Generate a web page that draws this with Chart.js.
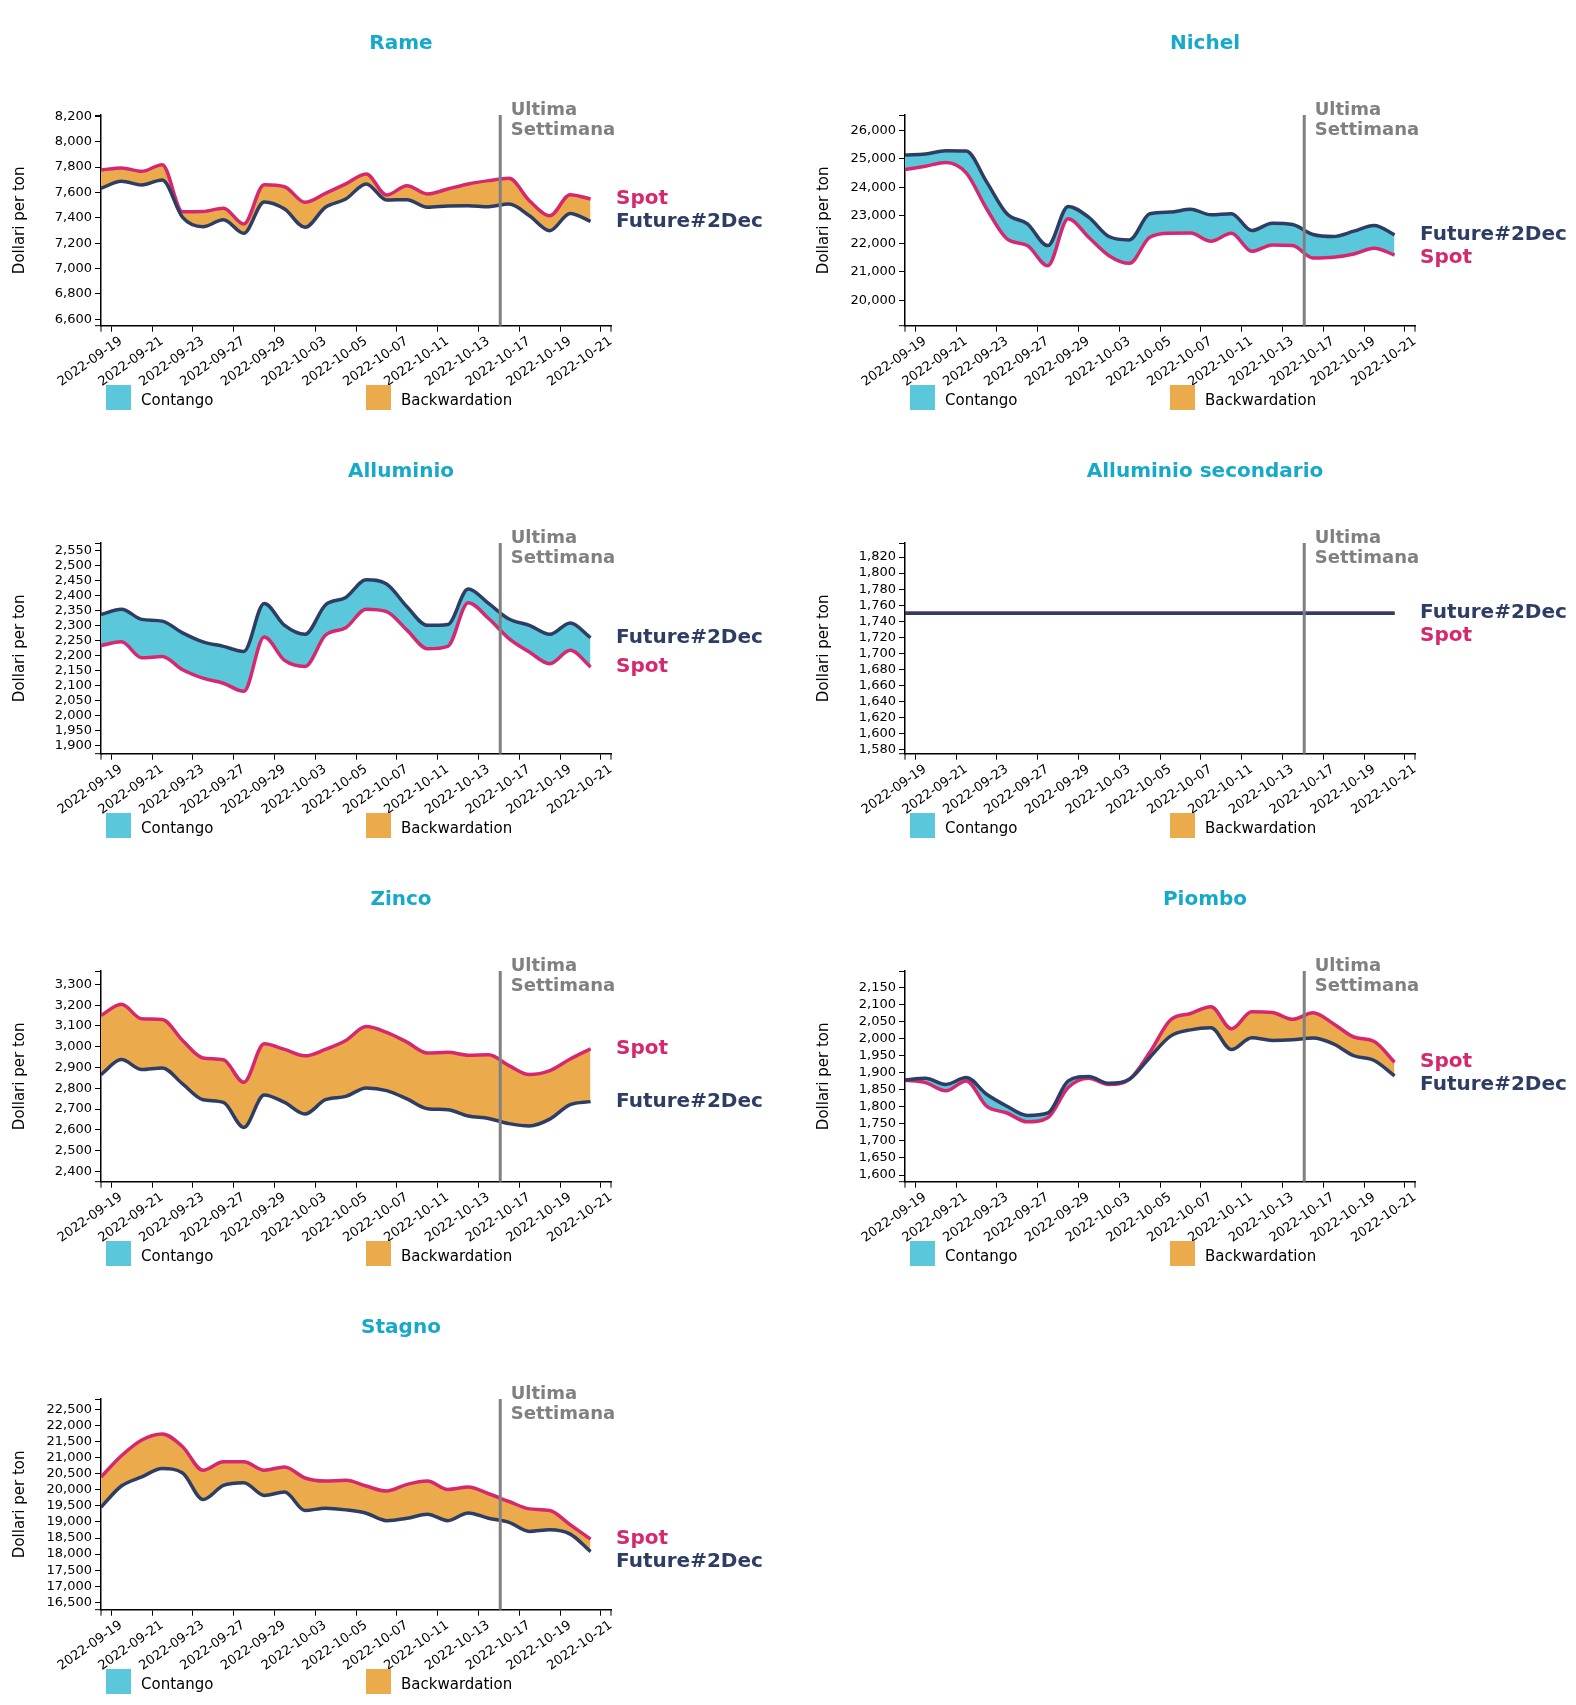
<!DOCTYPE html>
<html>
<head>
<meta charset="utf-8">
<script src="https://cdn.jsdelivr.net/npm/chart.js@4.4.0/dist/chart.umd.min.js"></script>
<style>
html,body{margin:0;padding:0;background:#fff;width:1576px;height:1705px;overflow:hidden;font-family:"DejaVu Sans",sans-serif;}
.panel{position:absolute;width:772px;height:428px;}
.panel canvas{position:absolute;left:0;top:0;width:772px;height:428px;}
.title{position:absolute;left:0;top:30.4px;width:802px;text-align:center;font-weight:bold;font-size:20px;line-height:24px;color:#17a9c9;}
.leg{position:absolute;top:385px;width:25px;height:25px;}
.legt{position:absolute;top:390px;font-size:15px;line-height:20px;color:#000;white-space:nowrap;}
</style>
</head>
<body>
<script>
// ---------------- DATA ----------------
const dates = ['2022-09-19','2022-09-20','2022-09-21','2022-09-22','2022-09-23','2022-09-26','2022-09-27','2022-09-28','2022-09-29','2022-09-30','2022-10-03','2022-10-04','2022-10-05','2022-10-06','2022-10-07','2022-10-10','2022-10-11','2022-10-12','2022-10-13','2022-10-14','2022-10-17','2022-10-18','2022-10-19','2022-10-20','2022-10-21'];
const lastWeekDate = '2022-10-14';

const rameSpot    = [7777,7793,7766,7819,7448,7450,7475,7351,7661,7645,7522,7593,7667,7745,7580,7653,7588,7627,7667,7693,7711,7535,7417,7582,7548];
const rameFuture  = [7632,7688,7659,7698,7404,7330,7385,7278,7525,7469,7325,7483,7548,7667,7540,7543,7483,7493,7496,7488,7509,7417,7299,7435,7372];

const nichelSpot   = [24624,24743,24873,24506,23237,22170,21933,21221,22881,22229,21577,21304,22229,22371,22375,22087,22371,21731,21956,21933,21494,21518,21636,21838,21601];
const nichelFuture = [25134,25170,25289,25277,24186,23059,22703,21933,23320,22940,22253,22134,23059,23118,23220,23023,23059,22466,22727,22680,22324,22253,22443,22644,22312];

const allumSpot   = [2233,2245,2192,2196,2152,2124,2107,2080,2261,2183,2163,2267,2292,2354,2346,2284,2222,2230,2375,2323,2256,2211,2172,2217,2161];
const allumFuture = [2336,2354,2320,2314,2275,2245,2230,2213,2373,2300,2270,2368,2393,2452,2438,2362,2300,2303,2421,2373,2321,2300,2270,2308,2259];

const allumSecSpot   = [1750,1750,1750,1750,1750,1750,1750,1750,1750,1750,1750,1750,1750,1750,1750,1750,1750,1750,1750,1750,1750,1750,1750,1750,1750];
const allumSecFuture = [1750,1750,1750,1750,1750,1750,1750,1750,1750,1750,1750,1750,1750,1750,1750,1750,1750,1750,1750,1750,1750,1750,1750,1750,1750];

const zincoSpot   = [3150,3204,3134,3131,3030,2946,2937,2829,3014,2987,2956,2987,3030,3097,3069,3022,2970,2973,2959,2961,2909,2866,2885,2941,2990];
const zincoFuture = [2866,2938,2890,2898,2821,2745,2732,2612,2768,2732,2676,2745,2761,2802,2789,2749,2702,2697,2667,2655,2630,2619,2652,2721,2736];

const piomboSpot   = [1878,1871,1847,1876,1802,1782,1756,1768,1857,1884,1866,1881,1960,2054,2074,2094,2029,2079,2077,2057,2076,2044,2005,1992,1931];
const piomboFuture = [1879,1884,1866,1886,1837,1802,1775,1782,1876,1889,1869,1881,1945,2007,2026,2032,1968,2003,1995,1997,2002,1985,1950,1936,1891];

const stagnoSpot   = [20399,21057,21549,21737,21340,20608,20869,20869,20608,20712,20367,20273,20294,20117,19960,20169,20273,20012,20085,19876,19636,19406,19354,18914,18465];
const stagnoFuture = [19458,20117,20399,20660,20524,19698,20137,20221,19824,19928,19354,19427,19375,19270,19040,19113,19239,19040,19280,19113,18988,18705,18757,18621,18078];

const titles = ['Rame','Nichel','Alluminio','Alluminio secondario','Zinco','Piombo','Stagno'];
const spotSeries = [rameSpot, nichelSpot, allumSpot, allumSecSpot, zincoSpot, piomboSpot, stagnoSpot];
const futureSeries = [rameFuture, nichelFuture, allumFuture, allumSecFuture, zincoFuture, piomboFuture, stagnoFuture];
const legendLabels = ['Contango','Backwardation'];
const seriesLabels = ['Spot','Future#2Dec'];

// ---------------- STYLE ----------------
const SPOT = '#d6286f', FUT = '#2d3d63', CONTANGO = '#5bc7db', BACKW = '#ebab4c', GREY = '#808080';
Chart.defaults.font.family = '"DejaVu Sans", sans-serif';
Chart.defaults.color = '#000';

function tickStep(a, b, count) {
  const step = (b - a) / count;
  const p = Math.floor(Math.log10(step));
  const e = step / Math.pow(10, p);
  const f = e >= Math.sqrt(50) ? 10 : e >= Math.sqrt(10) ? 5 : e >= Math.sqrt(2) ? 2 : 1;
  return f * Math.pow(10, p);
}

const overlay = {
  id: 'overlay',
  afterDraw(chart) {
    const {ctx, chartArea: ca, scales: {x, y}} = chart;
    const o = chart.options.plugins.overlay;
    ctx.save();
    ctx.strokeStyle = '#000'; ctx.lineWidth = 1;
    ctx.beginPath();
    ctx.moveTo(ca.left - 6, ca.top + 0.5); ctx.lineTo(ca.left, ca.top + 0.5);
    ctx.moveTo(ca.left - 6, ca.bottom); ctx.lineTo(ca.left, ca.bottom);
    ctx.moveTo(ca.left, ca.bottom); ctx.lineTo(ca.left, ca.bottom + 6);
    ctx.moveTo(ca.right, ca.bottom); ctx.lineTo(ca.right, ca.bottom + 6);
    ctx.stroke();
    // last week marker
    const lx = x.getPixelForValue(dates.indexOf(lastWeekDate) + 0.57);
    ctx.strokeStyle = GREY; ctx.lineWidth = 3;
    ctx.beginPath(); ctx.moveTo(lx, ca.top); ctx.lineTo(lx, ca.bottom); ctx.stroke();
    ctx.fillStyle = GREY; ctx.font = 'bold 18px "DejaVu Sans"';
    ctx.textAlign = 'left'; ctx.textBaseline = 'alphabetic';
    ctx.fillText('Ultima', lx + 10.5, ca.top);
    ctx.fillText('Settimana', lx + 10.5, ca.top + 20);
    // end labels: keep the upper label, push the lower one down if they collide
    const n = o.spot.length - 1;
    let ys = y.getPixelForValue(o.spot[n]), yf = y.getPixelForValue(o.future[n]);
    const gap = 22.5;
    if (Math.abs(ys - yf) < gap) {
      if (ys < yf) { yf = ys + gap; } else { ys = yf + gap; }
    }
    ctx.font = 'bold 20px "DejaVu Sans"';
    ctx.textBaseline = 'middle';
    ctx.fillStyle = SPOT; ctx.fillText(seriesLabels[0], ca.right + 5, ys);
    ctx.fillStyle = FUT; ctx.fillText(seriesLabels[1], ca.right + 5, yf);
    ctx.restore();
  }
};

function build(k) {
  const col = k % 2, row = Math.floor(k / 2);
  const div = document.createElement('div');
  div.className = 'panel';
  div.style.left = (col * 804) + 'px';
  div.style.top = (row * 428) + 'px';
  const cv = document.createElement('canvas');
  cv.width = 772; cv.height = 428;
  div.appendChild(cv);
  const t = document.createElement('div'); t.className = 'title'; t.textContent = titles[k]; div.appendChild(t);
  const l1 = document.createElement('div'); l1.className = 'leg'; l1.style.left = '106px'; l1.style.background = CONTANGO; div.appendChild(l1);
  const t1 = document.createElement('div'); t1.className = 'legt'; t1.style.left = '141px'; t1.textContent = legendLabels[0]; div.appendChild(t1);
  const l2 = document.createElement('div'); l2.className = 'leg'; l2.style.left = '366px'; l2.style.background = BACKW; div.appendChild(l2);
  const t2 = document.createElement('div'); t2.className = 'legt'; t2.style.left = '401px'; t2.textContent = legendLabels[1]; div.appendChild(t2);
  document.body.appendChild(div);

  const spot = spotSeries[k], future = futureSeries[k];
  const mn = Math.min(...spot, ...future), mx = Math.max(...spot, ...future);
  const ymin = mn * 0.9, ymax = mx * 1.05;
  const step = tickStep(ymin, ymax, 10);

  new Chart(cv, {
    type: 'line',
    data: {
      datasets: [
        { label: seriesLabels[1], data: future.map((v, i) => ({x: i, y: v})),
          borderColor: FUT, borderWidth: 3.5, pointRadius: 0, fill: false,
          cubicInterpolationMode: 'monotone' },
        { label: seriesLabels[0], data: spot.map((v, i) => ({x: i, y: v})),
          borderColor: SPOT, borderWidth: 3.5, pointRadius: 0,
          fill: { target: 0, above: BACKW, below: CONTANGO },
          cubicInterpolationMode: 'monotone' }
      ]
    },
    options: {
      responsive: false, animation: false, devicePixelRatio: 1,
      layout: { padding: { left: 0, top: 115, right: 161, bottom: 0 } },
      plugins: { legend: { display: false }, tooltip: { enabled: false },
                 overlay: { spot, future } },
      scales: {
        x: {
          type: 'linear', min: 0, max: dates.length,
          afterBuildTicks: s => { s.ticks = dates.map((d, i) => i).filter(i => i % 2 === 0).map(i => ({value: i + 0.5})); },
          afterFit: s => { s.height = 102.3; },
          ticks: { autoSkip: false, minRotation: 35, maxRotation: 35, padding: 2, labelOffset: 10,
                   font: { size: 13 }, color: '#000',
                   callback: v => dates[Math.round(v - 0.5)] },
          grid: { drawOnChartArea: false, drawTicks: true, tickLength: 6, color: '#000', lineWidth: 1 },
          border: { display: true, color: '#000', width: 1.5 }
        },
        y: {
          type: 'linear', min: ymin, max: ymax,
          afterBuildTicks: s => { const a = []; for (let v = Math.ceil(ymin / step) * step; v <= ymax + 1e-9; v += step) a.push({value: v}); s.ticks = a; },
          afterFit: s => { s.width = 101; },
          ticks: { autoSkip: false, font: { size: 13 }, color: '#000', padding: 3,
                   callback: v => Number(v).toLocaleString('en-US') },
          grid: { drawOnChartArea: false, drawTicks: true, tickLength: 6, color: '#000', lineWidth: 1 },
          border: { display: true, color: '#000', width: 1.5 },
          title: { display: true, text: 'Dollari per ton', font: { size: 15 }, color: '#000', padding: { top: 11, bottom: 0 } }
        }
      }
    },
    plugins: [overlay]
  });
}
for (let k = 0; k < titles.length; k++) build(k);
</script>
</body>
</html>
